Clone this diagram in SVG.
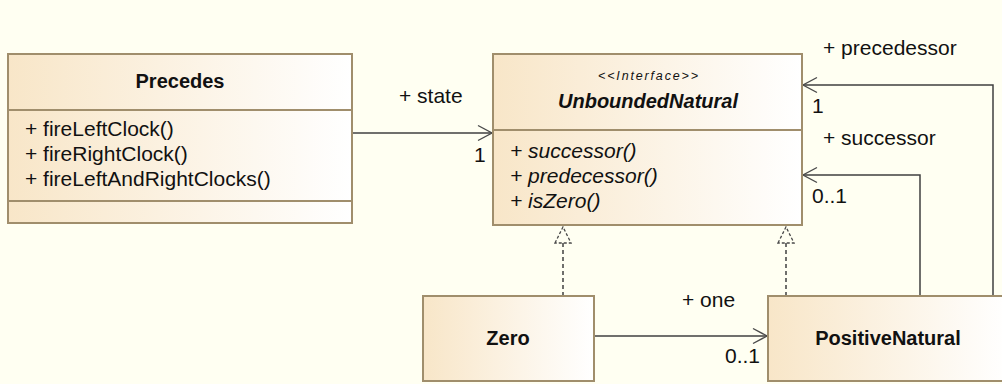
<svg xmlns="http://www.w3.org/2000/svg" width="1002" height="384" viewBox="0 0 1002 384">
<defs>
<linearGradient id="cls" x1="0" y1="0" x2="1" y2="0">
<stop offset="0" stop-color="#F8E6C8"/>
<stop offset="1" stop-color="#FFFFFF"/>
</linearGradient>
<marker id="open" markerUnits="userSpaceOnUse" viewBox="0 0 16 18" markerWidth="16" markerHeight="18" refX="15" refY="9" orient="auto">
<path d="M1,1.5 L15,9 L1,16.5" fill="none" stroke="#4a4a4a" stroke-width="1.4"/>
</marker>
<marker id="tri" markerUnits="userSpaceOnUse" viewBox="0 0 18 18" markerWidth="18" markerHeight="18" refX="17" refY="9" orient="auto">
<path d="M1,1 L17,9 L1,17 Z" fill="#FFFFF2" stroke="#4a4a4a" stroke-width="1.3" stroke-dasharray="3,2"/>
</marker>
<style>
.box{fill:url(#cls);stroke:#A08E6C;stroke-width:2}
.div{stroke:#A08E6C;stroke-width:2}
.t{font-family:"Liberation Sans",Arial,sans-serif;font-size:21px;fill:#111}
.b{font-family:"Liberation Sans",Arial,sans-serif;font-size:20px;font-weight:bold;fill:#111}
.i{font-style:italic}
.c{text-anchor:middle}
.ln{fill:none;stroke:#404040;stroke-width:1.5}
.dash{fill:none;stroke:#404040;stroke-width:1.5;stroke-dasharray:4,3}
</style>
</defs>
<rect x="0" y="0" width="1002" height="384" fill="#FFFFF2"/>

<g id="connectors">
<path class="ln" d="M352,133 L492,133" marker-end="url(#open)"/>
<path class="ln" d="M993,296 L993,85 L803,85" marker-end="url(#open)"/>
<path class="ln" d="M920,296 L920,175 L803,175" marker-end="url(#open)"/>
<path class="ln" d="M594,336 L767,336" marker-end="url(#open)"/>
<path class="dash" d="M563,296 L563,227" marker-end="url(#tri)"/>
<path class="dash" d="M786,296 L786,227" marker-end="url(#tri)"/>
<text class="t" x="399" y="103">+ state</text>
<text class="t" x="474" y="162">1</text>
<text class="t" x="823" y="55">+ precedessor</text>
<text class="t" x="812" y="113">1</text>
<text class="t" x="823" y="145">+ successor</text>
<text class="t" x="812" y="203">0..1</text>
<text class="t" x="682" y="307">+ one</text>
<text class="t" x="725" y="363">0..1</text>
</g>

<g id="Precedes">
<rect class="box" x="8" y="54" width="344" height="169"/>
<line class="div" x1="8" y1="110" x2="352" y2="110"/>
<line class="div" x1="8" y1="201" x2="352" y2="201"/>
<text class="b c" x="180" y="88">Precedes</text>
<text class="t" x="25" y="136">+ fireLeftClock()</text>
<text class="t" x="25" y="161">+ fireRightClock()</text>
<text class="t" x="25" y="186">+ fireLeftAndRightClocks()</text>
</g>

<g id="UnboundedNatural">
<rect class="box" x="493" y="54" width="309" height="171"/>
<line class="div" x1="493" y1="130" x2="802" y2="130"/>
<text class="t i c" x="648" y="80" style="font-size:12.5px" textLength="100" lengthAdjust="spacing">&lt;&lt;Interface&gt;&gt;</text>
<text class="b i c" x="648" y="108">UnboundedNatural</text>
<text class="t i" x="510" y="158">+ successor()</text>
<text class="t i" x="510" y="183">+ predecessor()</text>
<text class="t i" x="510" y="208">+ isZero()</text>
</g>

<g id="Zero">
<rect class="box" x="423" y="296" width="171" height="85"/>
<text class="b c" x="508" y="345">Zero</text>
</g>

<g id="PositiveNatural">
<rect class="box" x="768" y="296" width="240" height="85"/>
<text class="b c" x="888" y="345">PositiveNatural</text>
</g>
</svg>
